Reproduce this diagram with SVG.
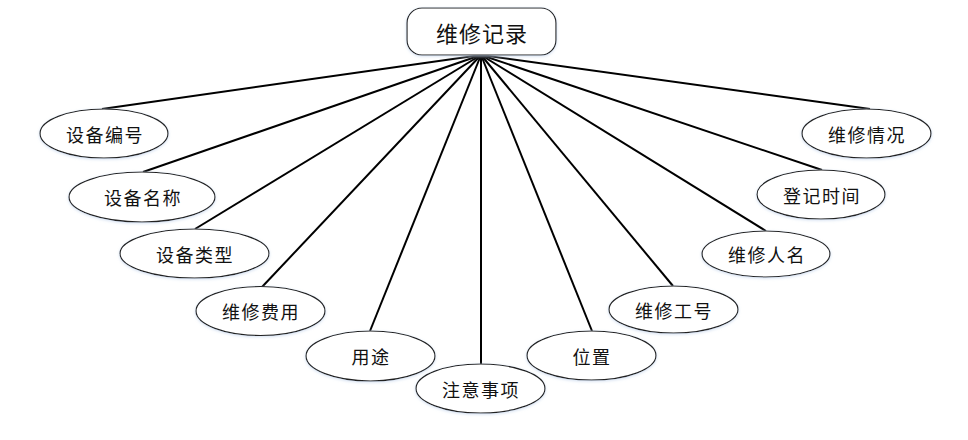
<svg xmlns="http://www.w3.org/2000/svg" width="968" height="440" viewBox="0 0 968 440">
<defs>
<style>
.n ellipse{fill:#fff;stroke:#222;stroke-width:1.2;filter:url(#glow)}
.n text{font-family:"Noto Sans CJK SC","Liberation Sans",sans-serif;font-size:18px;fill:#111;text-anchor:middle;dominant-baseline:central;letter-spacing:1.5px}
#root rect{fill:#fff;stroke:#222;stroke-width:1.2;filter:url(#glow)}
#root text{font-family:"Noto Sans CJK SC","Liberation Sans",sans-serif;font-size:22px;fill:#111;text-anchor:middle;dominant-baseline:central;letter-spacing:1px}
#edges line{stroke:#000;stroke-width:2}
</style>
<filter id="glow" x="-10%" y="-20%" width="120%" height="140%">
<feDropShadow dx="0" dy="1" stdDeviation="1.5" flood-color="#c8d8ee" flood-opacity="0.8"/>
</filter>
</defs>
<rect width="968" height="440" fill="#fff"/>
<g id="edges">
<line x1="481" y1="55" x2="102" y2="109"/>
<line x1="481" y1="55" x2="143" y2="172"/>
<line x1="481" y1="55" x2="195" y2="229"/>
<line x1="481" y1="55" x2="262" y2="287"/>
<line x1="481" y1="55" x2="370" y2="331"/>
<line x1="481" y1="55" x2="481" y2="364"/>
<line x1="481" y1="55" x2="592" y2="331"/>
<line x1="481" y1="55" x2="673" y2="286"/>
<line x1="481" y1="55" x2="766" y2="231"/>
<line x1="481" y1="55" x2="822" y2="170"/>
<line x1="481" y1="55" x2="870" y2="109"/>
</g>
<g id="root">
<rect x="407" y="8" width="149" height="47" rx="15" ry="15"/>
<text x="482" y="32">维修记录</text>
</g>
<g id="n1" class="n"><ellipse cx="104" cy="133.5" rx="64" ry="24.5"/><text x="105" y="134">设备编号</text></g>
<g id="n2" class="n"><ellipse cx="142" cy="197" rx="73" ry="25"/><text x="143" y="197">设备名称</text></g>
<g id="n3" class="n"><ellipse cx="194.5" cy="253.5" rx="74.5" ry="24.5"/><text x="195" y="254">设备类型</text></g>
<g id="n4" class="n"><ellipse cx="260.5" cy="311" rx="64.5" ry="24.5"/><text x="261" y="311">维修费用</text></g>
<g id="n5" class="n"><ellipse cx="370.5" cy="356" rx="64.5" ry="25"/><text x="371" y="356">用途</text></g>
<g id="n6" class="n"><ellipse cx="480.5" cy="388.5" rx="64.5" ry="24.5"/><text x="481" y="389">注意事项</text></g>
<g id="n7" class="n"><ellipse cx="591.5" cy="355.5" rx="64.5" ry="24.5"/><text x="592" y="356">位置</text></g>
<g id="n8" class="n"><ellipse cx="673.5" cy="309.5" rx="64.5" ry="23.5"/><text x="674" y="310">维修工号</text></g>
<g id="n9" class="n"><ellipse cx="766" cy="254" rx="64" ry="23"/><text x="767" y="254">维修人名</text></g>
<g id="n10" class="n"><ellipse cx="821" cy="194.5" rx="64" ry="24.5"/><text x="822" y="195">登记时间</text></g>
<g id="n11" class="n"><ellipse cx="866.5" cy="133.5" rx="64.5" ry="24.5"/><text x="867" y="134">维修情况</text></g>
</svg>
